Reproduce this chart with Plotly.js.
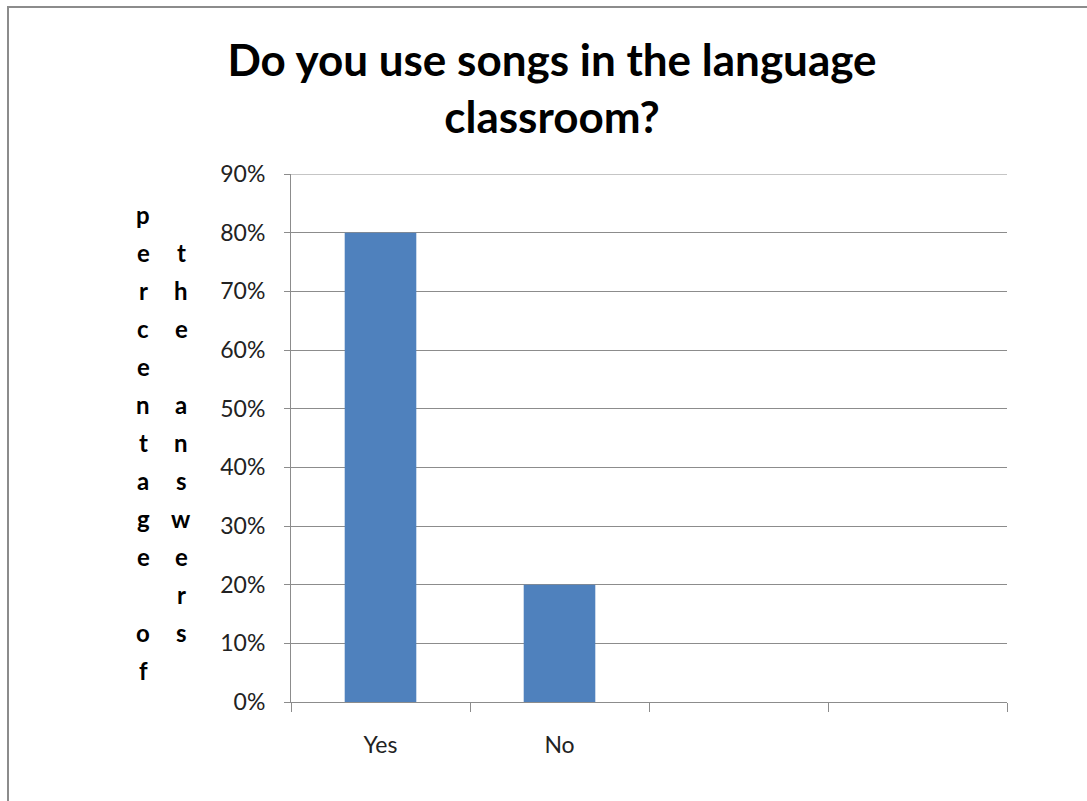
<!DOCTYPE html>
<html>
<head>
<meta charset="utf-8">
<script src="https://cdn.plot.ly/plotly-3.0.1.min.js"></script>
<style>
  html, body { margin:0; padding:0; background:#fff; overflow:hidden; }
  #chart { width:1087px; height:801px; position:absolute; left:0; top:0; }
  #frame { position:absolute; left:7px; top:6px; width:1200px; height:1000px;
           border-left:2px solid #8c8c8c; border-top:2px solid #8c8c8c; pointer-events:none; }
</style>
</head>
<body>
<div id="chart"></div>
<div id="frame"></div>
<script>
// four category slots on the axis; the last two are empty in the original chart
const categories = ["Yes", "No", " ", "  "];
const values = [0.80, 0.20, null, null];
const titleText = "Do you use songs in the language<br>classroom?";
const yTitleCol1 = "percentage of";
const yTitleCol2 = "the answers";
const yMax = 0.9;

const trace = {
  type: "bar",
  x: categories,
  y: values,
  marker: { color: "#4f81bd" },
  hoverinfo: "x+y"
};

// vertical stacked y-axis title, letter by letter (two wrapped columns)
const annotations = [];
const rowTop = 214, rowStep = 38;
function addColumn(str, xpx, startRow) {
  for (let i = 0; i < str.length; i++) {
    const ch = str[i];
    if (ch === " ") continue;
    annotations.push({
      text: ch, xref: "paper", yref: "paper",
      x: (xpx - 291) / 716,
      y: (702 - (rowTop + rowStep * (startRow + i))) / 528,
      xanchor: "center", yanchor: "middle", showarrow: false,
      font: { family: "Lato, 'Open Sans', sans-serif", size: 24, color: "#000", weight: "bold" }
    });
  }
}
addColumn(yTitleCol1, 143, 0);
addColumn(yTitleCol2, 181, 1);

const layout = {
  width: 1087, height: 801,
  margin: { l: 291, r: 80, t: 174, b: 99 },
  paper_bgcolor: "#fff", plot_bgcolor: "#fff",
  showlegend: false,
  bargap: 0.6,
  title: {
    text: titleText,
    x: 552 / 1087, xanchor: "center", xref: "container",
    y: 1 - 76 / 801, yanchor: "middle", yref: "container",
    font: { family: "Lato, 'Open Sans', sans-serif", size: 44, color: "#000", weight: "bold" }
  },
  xaxis: {
    type: "category",
    categoryorder: "array", categoryarray: categories,
    range: [-0.5, categories.length - 0.5],
    showline: true, linecolor: "#8c8c8c", linewidth: 1,
    ticks: "outside", ticklen: 9, tickcolor: "#8c8c8c", tickwidth: 1,
    tickson: "boundaries",
    showgrid: false, zeroline: false,
    ticklabelstandoff: 22,
    tickfont: { family: "Lato, 'Open Sans', sans-serif", size: 23, color: "#222" },
    fixedrange: true
  },
  yaxis: {
    range: [0, yMax], dtick: 0.1, tick0: 0,
    tickformat: ".0%",
    showline: true, linecolor: "#8c8c8c", linewidth: 1,
    ticks: "outside", ticklen: 6, tickcolor: "#8c8c8c",
    showgrid: true, gridcolor: "#8c8c8c", gridwidth: 1,
    zeroline: false,
    ticklabelstandoff: 14,
    tickfont: { family: "Lato, 'Open Sans', sans-serif", size: 23, color: "#222" },
    fixedrange: true
  },
  shapes: [{
    type: "line", xref: "paper", yref: "y",
    x0: 0, x1: 1, y0: yMax, y1: yMax,
    line: { color: "#8c8c8c", width: 1 }
  }],
  annotations: annotations
};

Plotly.newPlot("chart", [trace], layout, { displayModeBar: false, staticPlot: true });
</script>
</body>
</html>
